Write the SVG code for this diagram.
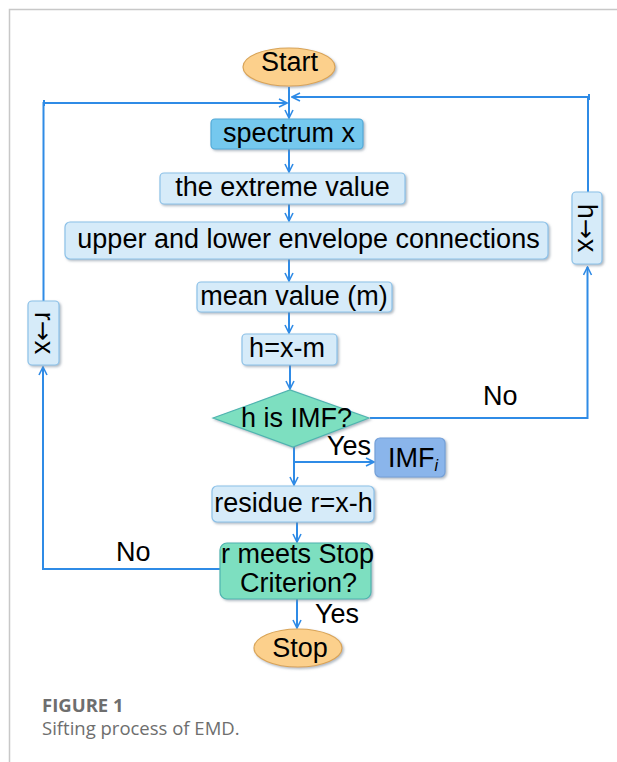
<svg xmlns="http://www.w3.org/2000/svg" width="617" height="762" viewBox="0 0 617 762">
<defs>
<marker id="arr" viewBox="0 0 10 10" refX="9" refY="5" markerWidth="10" markerHeight="10" markerUnits="userSpaceOnUse" orient="auto">
<path d="M1,1 L9,5 L1,9" fill="none" stroke="#2f8be6" stroke-width="1.6"/>
</marker>
<filter id="sh" x="-10%" y="-10%" width="130%" height="140%">
<feDropShadow dx="1.5" dy="1.5" stdDeviation="0.8" flood-color="#7a8a99" flood-opacity="0.6"/>
</filter>
</defs>
<style>
.t{font-family:"Liberation Sans",Arial,sans-serif;font-size:27px;fill:#000;text-anchor:middle}
.lbl{font-family:"Liberation Sans",Arial,sans-serif;font-size:27px;fill:#000}
.ar{font-family:"DejaVu Sans",sans-serif;font-size:24px}
.lb{fill:#d6ebf9;stroke:#8cc1e8;stroke-width:1.2;filter:url(#sh)}
.sp{fill:#74c8ee;stroke:#52aad8;stroke-width:1.2;filter:url(#sh)}
.gr{fill:#7ddfc0;stroke:#4fb4b0;stroke-width:1.2;filter:url(#sh)}
.or{fill:#fcd08c;stroke:#d9a456;stroke-width:1.2;filter:url(#sh)}
.im{fill:#8ab5eb;stroke:#74a0d8;stroke-width:1.2;filter:url(#sh)}
.c{fill:none;stroke:#2f8be6;stroke-width:2}
.cap{font-family:"Open Sans",sans-serif;fill:#6e6e6e}
</style>
<rect width="617" height="762" fill="#fff"/>
<path d="M9.5,762 V9.5 H617" fill="none" stroke="#c8c8c8" stroke-width="1.5"/>

<g id="connectors">
<path class="c" d="M289,87 V118" marker-end="url(#arr)"/>
<path class="c" d="M289,149 V172" marker-end="url(#arr)"/>
<path class="c" d="M289,204 V221" marker-end="url(#arr)"/>
<path class="c" d="M289,259 V281" marker-end="url(#arr)"/>
<path class="c" d="M289,312 V333" marker-end="url(#arr)"/>
<path class="c" d="M290,365 V389" marker-end="url(#arr)"/>
<path class="c" d="M294,447 V485" marker-end="url(#arr)"/>
<path class="c" d="M294,462 H374" marker-end="url(#arr)"/>
<path class="c" d="M297,522 V542" marker-end="url(#arr)"/>
<path class="c" d="M297,599 V628" marker-end="url(#arr)"/>
<path class="c" d="M220,569 H43 V367" marker-end="url(#arr)"/>
<path class="c" d="M43.5,301 V103 H287" marker-end="url(#arr)"/>
<path class="c" d="M44,100 V106"/>
<path class="c" d="M370,418 H587.5 V267" marker-end="url(#arr)"/>
<path class="c" d="M588,192 V97 H292" marker-end="url(#arr)"/>
<path class="c" d="M589,94 V100"/>
</g>

<g id="start"><ellipse class="or" cx="289" cy="67" rx="46" ry="19"/><text class="t" x="289.5" y="71">Start</text></g>
<g id="spectrum"><rect class="sp" x="211" y="119" width="152" height="30" rx="4"/><text class="t" x="289" y="142">spectrum x</text></g>
<g id="extreme"><rect class="lb" x="160" y="173" width="245" height="31" rx="4"/><text class="t" x="282.5" y="196">the extreme value</text></g>
<g id="envelope"><rect class="lb" x="65" y="222" width="483" height="37" rx="5"/><text class="t" x="308.5" y="248">upper and lower envelope connections</text></g>
<g id="mean"><rect class="lb" x="197" y="282" width="195" height="30" rx="4"/><text class="t" x="294" y="305">mean value (m)</text></g>
<g id="hxm"><rect class="lb" x="242" y="334" width="95" height="31" rx="4"/><text class="t" x="287" y="357">h=x-m</text></g>
<g id="isimf"><polygon class="gr" points="213,418 290,390 369,418 293,447"/><text class="t" x="296.5" y="427">h is IMF?</text></g>
<g id="imf"><rect class="im" x="375" y="438" width="70" height="39" rx="5"/><text class="lbl" x="388" y="467">IMF<tspan font-size="16" font-style="italic" dy="4">i</tspan></text></g>
<g id="residue"><rect class="lb" x="212" y="486" width="162" height="36" rx="5"/><text class="t" x="293.5" y="512">residue r=x-h</text></g>
<g id="criterion"><rect class="gr" x="220" y="543" width="151" height="56" rx="7"/><text class="t" x="297.5" y="563">r meets Stop</text><text class="t" x="298.5" y="592">Criterion?</text></g>
<g id="stop"><ellipse class="or" cx="298" cy="648" rx="44" ry="19"/><text class="t" x="300" y="657">Stop</text></g>
<g id="rx"><rect class="lb" x="28" y="301" width="31" height="64" rx="4"/><text class="t" transform="translate(43.5,333) rotate(90)" y="9">r<tspan class="ar">→</tspan>x</text></g>
<g id="hx"><rect class="lb" x="572" y="192" width="30" height="72" rx="4"/><text class="t" transform="translate(587,228) rotate(90)" y="9">h<tspan class="ar">→</tspan>x</text></g>

<g id="labels">
<text class="lbl" x="327" y="455">Yes</text>
<text class="lbl" x="483" y="405">No</text>
<text class="lbl" x="315" y="623">Yes</text>
<text class="lbl" x="116" y="561">No</text>
</g>

<g id="caption">
<text class="cap" x="42" y="712" font-size="18.5" font-weight="bold">FIGURE 1</text>
<text class="cap" x="42" y="735" font-size="18.5" fill="#777">Sifting process of EMD.</text>
</g>
</svg>
